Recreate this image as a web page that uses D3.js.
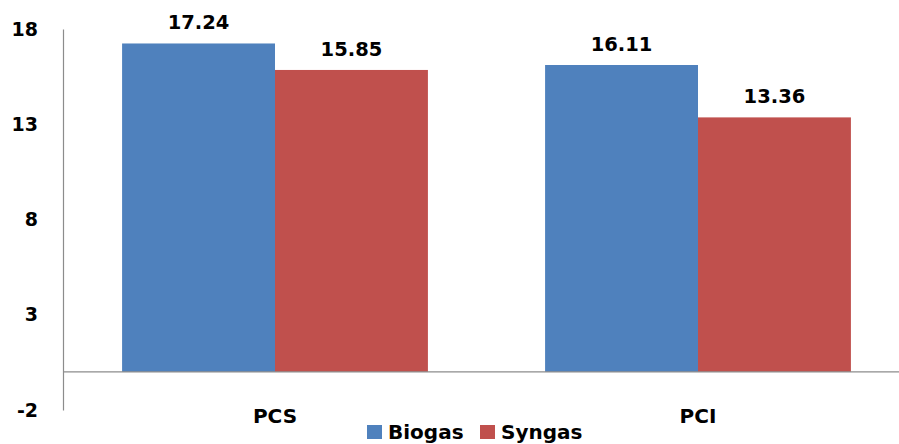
<!DOCTYPE html>
<html>
<head>
<meta charset="utf-8">
<script src="https://cdn.jsdelivr.net/npm/d3@7"></script>
<style>
  html, body { margin: 0; padding: 0; background: #fff; }
  svg { display: block; }
  text { font-family: "DejaVu Sans", Verdana, sans-serif; font-weight: bold; fill: #000; }
</style>
</head>
<body>
<svg id="chart" width="899" height="444"></svg>
<script>
// Heating values of the two gases
const categories = ["PCS", "PCI"];
const seriesNames = ["Biogas", "Syngas"];
const biogas = [17.24, 16.11];
const syngas = [15.85, 13.36];
const yTicks = [-2, 3, 8, 13, 18];
const colors = ["#4F81BD", "#C0504D"];

const svg = d3.select("#chart");
const W = 899, H = 444;

const y = d3.scaleLinear().domain([-2, 18]).range([410, 29]);

const x0 = d3.scaleBand()
  .domain(categories)
  .range([63.5, 909.5])
  .paddingInner(0.277)
  .paddingOuter(0.1385);

const x1 = d3.scaleBand()
  .domain(seriesNames)
  .range([0, x0.bandwidth()]);

const color = d3.scaleOrdinal().domain(seriesNames).range(colors);

const rows = categories.map((c, i) => ({
  cat: c,
  values: [
    { name: "Biogas", v: biogas[i] },
    { name: "Syngas", v: syngas[i] }
  ]
}));

// Bars
const groups = svg.append("g").selectAll("g")
  .data(rows)
  .join("g")
  .attr("transform", d => `translate(${x0(d.cat)},0)`);

groups.selectAll("rect")
  .data(d => d.values)
  .join("rect")
  .attr("x", d => x1(d.name))
  .attr("y", d => y(Math.max(0, d.v)))
  .attr("width", x1.bandwidth())
  .attr("height", d => Math.abs(y(d.v) - y(0)))
  .attr("fill", d => color(d.name));

// Value labels
groups.selectAll("text.val")
  .data(d => d.values)
  .join("text")
  .attr("class", "val")
  .attr("x", d => x1(d.name) + x1.bandwidth() / 2)
  .attr("y", d => y(d.v) - 14)
  .attr("text-anchor", "middle")
  .attr("font-size", 19.5)
  .text(d => d.v.toFixed(2));

// Y axis (plain hyphen for negatives)
const yAxis = d3.axisLeft(y)
  .tickValues(yTicks)
  .tickFormat(d => String(d))
  .tickSize(0)
  .tickPadding(25);
const gy = svg.append("g").attr("transform", "translate(63,0)").call(yAxis);
gy.select(".domain").attr("stroke", "#8c8c8c").attr("stroke-width", 1.2);
gy.selectAll(".tick text")
  .attr("font-size", 19)
  .style("font-family", "'DejaVu Sans', Verdana, sans-serif")
  .style("font-weight", "bold")
  .attr("fill", "#000");

// Zero baseline
svg.append("line")
  .attr("x1", 63).attr("x2", W)
  .attr("y1", y(0)).attr("y2", y(0))
  .attr("stroke", "#8c8c8c").attr("stroke-width", 1.2);

// Category labels
svg.append("g").selectAll("text")
  .data(categories)
  .join("text")
  .attr("x", d => x0(d) + x0.bandwidth() / 2)
  .attr("y", 423)
  .attr("text-anchor", "middle")
  .attr("font-size", 20)
  .text(d => d);

// Legend
const legendX = [367, 480];
const lg = svg.append("g").selectAll("g")
  .data(seriesNames)
  .join("g")
  .attr("transform", (d, i) => `translate(${legendX[i]},0)`);
lg.append("rect")
  .attr("x", 0).attr("y", 425)
  .attr("width", 15).attr("height", 14)
  .attr("fill", d => color(d));
lg.append("text")
  .attr("x", 21).attr("y", 439)
  .attr("font-size", 20)
  .text(d => d);
</script>
</body>
</html>
